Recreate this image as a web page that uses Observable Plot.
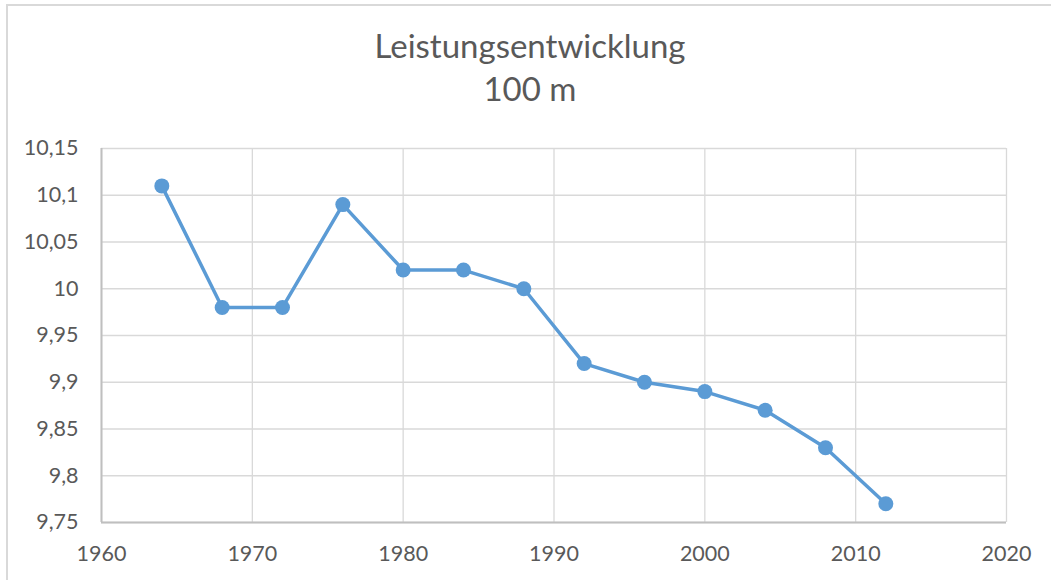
<!DOCTYPE html>
<html>
<head>
<meta charset="utf-8">
<script src="https://cdn.jsdelivr.net/npm/d3@7"></script>
<script src="https://cdn.jsdelivr.net/npm/@observablehq/plot@0.6"></script>
<style>
  html, body { margin: 0; padding: 0; background: #fff; overflow: hidden; }
  body { width: 1051px; height: 580px; position: relative; font-family: Lato, "Open Sans", sans-serif; }
  #frame { position: absolute; left: 6px; top: 4px; width: 1100px; height: 620px; border: 2px solid #d9d9d9; box-sizing: border-box; }
  #title { position: absolute; left: 0; top: 0; }
  #chart { position: absolute; left: 0; top: 0; }
</style>
</head>
<body>
<div id="frame"></div>
<svg id="title" width="1051" height="130">
  <text x="530" y="58" text-anchor="middle" fill="#595959" font-family="Lato, 'Open Sans', sans-serif" font-size="33">Leistungsentwicklung</text>
  <text x="530" y="101" text-anchor="middle" fill="#595959" font-family="Lato, 'Open Sans', sans-serif" font-size="33">100 m</text>
</svg>
<div id="chart"></div>
<script>
const years = [1964, 1968, 1972, 1976, 1980, 1984, 1988, 1992, 1996, 2000, 2004, 2008, 2012];
const times = [10.11, 9.98, 9.98, 10.09, 10.02, 10.02, 10.00, 9.92, 9.90, 9.89, 9.87, 9.83, 9.77];
const xTicks = [1960, 1970, 1980, 1990, 2000, 2010, 2020];
const yTicks = [9.75, 9.80, 9.85, 9.90, 9.95, 10.00, 10.05, 10.10, 10.15];

const data = years.map((y, i) => ({year: y, time: times[i]}));
const fmtY = d => String(+d.toFixed(2)).replace(".", ",");

const chart = Plot.plot({
  width: 1051,
  height: 580,
  marginLeft: 101,
  marginRight: 45,
  marginTop: 148,
  marginBottom: 58,
  style: {fontFamily: "Lato, 'Open Sans', sans-serif", fontSize: "21.5px", color: "#595959", background: "transparent", overflow: "visible"},
  x: {domain: [1960, 2020], ticks: xTicks, tickFormat: d => String(d), label: null, tickSize: 0, tickPadding: 23},
  y: {domain: [9.75, 10.15], ticks: yTicks, tickFormat: fmtY, label: null, tickSize: 0, tickPadding: 23},
  marks: [
    Plot.gridX(xTicks, {stroke: "#d9d9d9", strokeOpacity: 1, strokeWidth: 1.3}),
    Plot.gridY(yTicks, {stroke: "#d9d9d9", strokeOpacity: 1, strokeWidth: 1.3}),
    Plot.ruleY([9.75], {stroke: "#bfbfbf", strokeWidth: 2}),
    Plot.ruleX([1960], {stroke: "#bfbfbf", strokeWidth: 2}),
    Plot.axisX({ticks: xTicks, tickFormat: d => String(d), tickSize: 0, tickPadding: 23, fill: "#595959", fontSize: 21.5}),
    Plot.axisY({ticks: yTicks, tickFormat: fmtY, tickSize: 0, tickPadding: 23, fill: "#595959", fontSize: 21.5}),
    Plot.line(data, {x: "year", y: "time", stroke: "#5b9bd5", strokeWidth: 3.5, strokeLinejoin: "round", strokeLinecap: "round"}),
    Plot.dot(data, {x: "year", y: "time", r: 7.5, fill: "#5b9bd5", stroke: "none"})
  ]
});
document.getElementById("chart").appendChild(chart);
</script>
</body>
</html>
